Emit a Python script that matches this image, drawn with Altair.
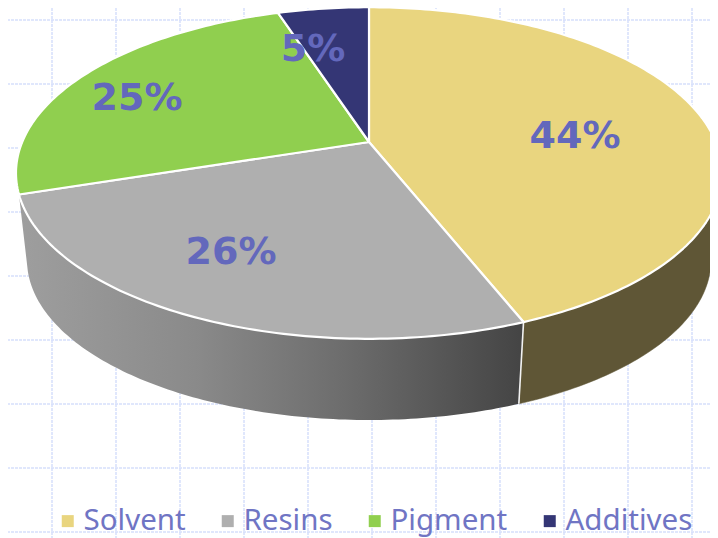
import math
import altair as alt
import pandas as pd

CATEGORIES = ["Solvent", "Resins", "Pigment", "Additives"]
SHARES = [44, 26, 25, 5]
LABELS = ["44%", "26%", "25%", "5%"]
TOP_COLORS = ["#E9D57F", "#AFAFAF", "#90CF4F", "#343675"]
TEXT_COLOR = "#6368BC"
LEGEND_TEXT = "#7075C4"
GRID_X = [52, 116, 180, 244, 308, 372, 436, 500, 564, 628, 692]
GRID_Y = [20, 84, 148, 212, 276, 340, 404, 468, 532]
LABEL_X = [575, 231, 137, 313]
LABEL_Y = [137, 253, 99, 50]

# Geometry of the tilted pie
CX, CY = 369, 142
AP, BP, K = 346.8, 160, -0.187
EY, EA, EB = 173, 353, 166      # outline of the top face
BY, BA, BB = 260, 342, 160      # outline of the lower rim


def top(theta_deg):
    t = math.radians(theta_deg)
    u, v = math.sin(t), -math.cos(t)
    w = 1 + K * v
    return CX + AP * u / w, CY + BP * v / w


def bottom(phi_deg):
    p = math.radians(phi_deg)
    return CX + BA * math.cos(p), BY + BB * math.sin(p)


def phi_of(theta_deg):
    x, y = top(theta_deg)
    return math.degrees(math.atan2((y - EY) / EB, (x - CX) / EA))


edges = [0]
for s in SHARES:
    edges.append(edges[-1] + s * 3.6)

slice_rows = []
for name, a, b in zip(CATEGORIES, edges[:-1], edges[1:]):
    pts = [(CX, CY)]
    n = max(int(b - a), 2)
    pts += [top(a + (b - a) * j / n) for j in range(n + 1)]
    pts.append((CX, CY))
    for i, (x, y) in enumerate(pts):
        slice_rows.append({"name": name, "i": i, "x": x, "y": y})
slices = pd.DataFrame(slice_rows)


def wall(theta_a, theta_b, phi_a, phi_b):
    pts = []
    n = int(abs(theta_b - theta_a)) + 1
    pts += [top(theta_a + (theta_b - theta_a) * j / n) for j in range(n + 1)]
    m = int(abs(phi_b - phi_a)) + 1
    pts += [bottom(phi_a + (phi_b - phi_a) * j / m) for j in range(m + 1)]
    pts.append(pts[0])
    return pd.DataFrame([{"i": i, "x": x, "y": y} for i, (x, y) in enumerate(pts)])


corner_phi = phi_of(edges[1])
wall_solvent = wall(edges[1], 97, 0, corner_phi)
wall_resins = wall(edges[2], edges[1], corner_phi, 176)

xs = alt.Scale(domain=[8, 710], nice=False, zero=False)
ys = alt.Scale(domain=[538, 8], nice=False, zero=False)
X = alt.X("x:Q", scale=xs, axis=None)
Y = alt.Y("y:Q", scale=ys, axis=None)

grid_v = alt.Chart(pd.DataFrame({"x": GRID_X})).mark_rule(
    color="#D6E0FC", strokeDash=[3, 1], strokeWidth=1.5
).encode(x=X)
grid_h = alt.Chart(pd.DataFrame({"y": GRID_Y})).mark_rule(
    color="#D6E0FC", strokeDash=[3, 1], strokeWidth=1.5
).encode(y=Y)

gradient = alt.Gradient(
    gradient="linear", x1=0, x2=1, y1=0, y2=0,
    stops=[
        alt.GradientStop(color="#9E9E9E", offset=0),
        alt.GradientStop(color="#8A8A8A", offset=0.35),
        alt.GradientStop(color="#6C6C6C", offset=0.65),
        alt.GradientStop(color="#444444", offset=1),
    ],
)

layer_wall_s = alt.Chart(wall_solvent).mark_line(
    fill="#5F5636", stroke="#5F5636", strokeWidth=0.5, clip=True
).encode(x=X, y=Y, order="i:Q")
layer_wall_r = alt.Chart(wall_resins).mark_line(
    fill=gradient, strokeWidth=0, clip=True
).encode(x=X, y=Y, order="i:Q")

seam = alt.Chart(pd.DataFrame({
    "i": [0, 1],
    "x": [top(edges[1])[0], bottom(corner_phi)[0]],
    "y": [top(edges[1])[1], bottom(corner_phi)[1]],
})).mark_line(color="#F2F2F2", strokeWidth=1.6).encode(x=X, y=Y, order="i:Q")

faces = alt.Chart(slices).mark_line(
    stroke="white", strokeWidth=2.2, strokeJoin="round", clip=True
).encode(
    x=X, y=Y, order="i:Q", detail="name:N",
    fill=alt.Fill(
        "name:N",
        scale=alt.Scale(domain=CATEGORIES, range=TOP_COLORS),
        legend=alt.Legend(
            title=None, orient="none", legendX=45, legendY=498,
            direction="horizontal", symbolType="square", symbolSize=144,
            symbolStrokeWidth=0, labelFont="Noto Sans", labelFontSize=29.5,
            labelColor=LEGEND_TEXT, labelOffset=1, columnPadding=27,
            labelLimit=300,
        ),
    ),
)

labels = alt.Chart(pd.DataFrame({"t": LABELS, "x": LABEL_X, "y": LABEL_Y})).mark_text(
    font="DejaVu Sans", fontWeight="bold", fontSize=38, color=TEXT_COLOR,
    align="center", baseline="middle",
).encode(x=X, y=Y, text="t:N")

chart = alt.layer(
    grid_v, grid_h, layer_wall_s, layer_wall_r, seam, faces, labels
).properties(
    width=702, height=530, padding=0, autosize=alt.AutoSizeParams(type="none"),
    background="white",
).configure_view(stroke=None)

chart.save("out.html", embed_options={"renderer": "svg", "actions": False})
